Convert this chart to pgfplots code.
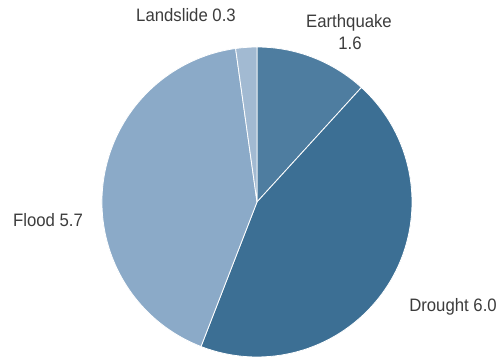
\documentclass[border=0pt]{standalone}
\usepackage{fontspec}
\setmainfont[FakeStretch=0.93]{Liberation Sans}
\usepackage{pgfplots}
\usepackage{pgfplotstable}
\pgfplotsset{compat=1.18}
\definecolor{slice0}{HTML}{4E7DA0}
\definecolor{slice1}{HTML}{3C6F94}
\definecolor{slice2}{HTML}{8BAAC8}
\definecolor{slice3}{HTML}{A2BAD2}
\definecolor{txt}{HTML}{3C3C3C}
\pgfplotstableread{
label value
Earthquake 1.6
Drought 6.0
Flood 5.7
Landslide 0.3
}\piedata
\begin{document}
\begin{tikzpicture}
\useasboundingbox (0,0) rectangle (500pt,361pt);
\begin{axis}[x=1pt,y=1pt,xmin=0,xmax=500,ymin=0,ymax=361,hide axis,
  anchor=origin,at={(0,0)},clip=false]
\pgfplotstablegetrowsof{\piedata}
\pgfmathtruncatemacro{\N}{\pgfplotsretval-1}
\def\tot{0}
\pgfplotsforeachungrouped \i in {0,...,\N}{%
  \pgfplotstablegetelem{\i}{value}\of\piedata
  \pgfmathsetmacro{\tot}{\tot+\pgfplotsretval}}
\def\ang{90}
\pgfplotsforeachungrouped \i in {0,...,\N}{%
  \pgfplotstablegetelem{\i}{value}\of\piedata
  \pgfmathsetmacro{\nang}{\ang-360*\pgfplotsretval/\tot}
  \edef\cmd{\noexpand\fill[slice\i, draw=white, line width=0.8pt, line join=round]
    (axis cs:257,159) -- ++(\ang:155pt) arc[start angle=\ang, end angle=\nang, radius=155pt] -- cycle;}
  \cmd
  \global\let\ang\nang}
\begin{scope}[every node/.style={text=txt, font=\fontsize{18}{22}\selectfont, anchor=base, inner sep=0pt}]
\node at (axis cs:186,339) {Landslide 0.3};
\node at (axis cs:349,333) {Earthquake};
\node at (axis cs:350,311) {1.6};
\node at (axis cs:48,134) {Flood 5.7};
\node at (axis cs:453,49) {Drought 6.0};
\end{scope}
\end{axis}
\end{tikzpicture}
\end{document}
